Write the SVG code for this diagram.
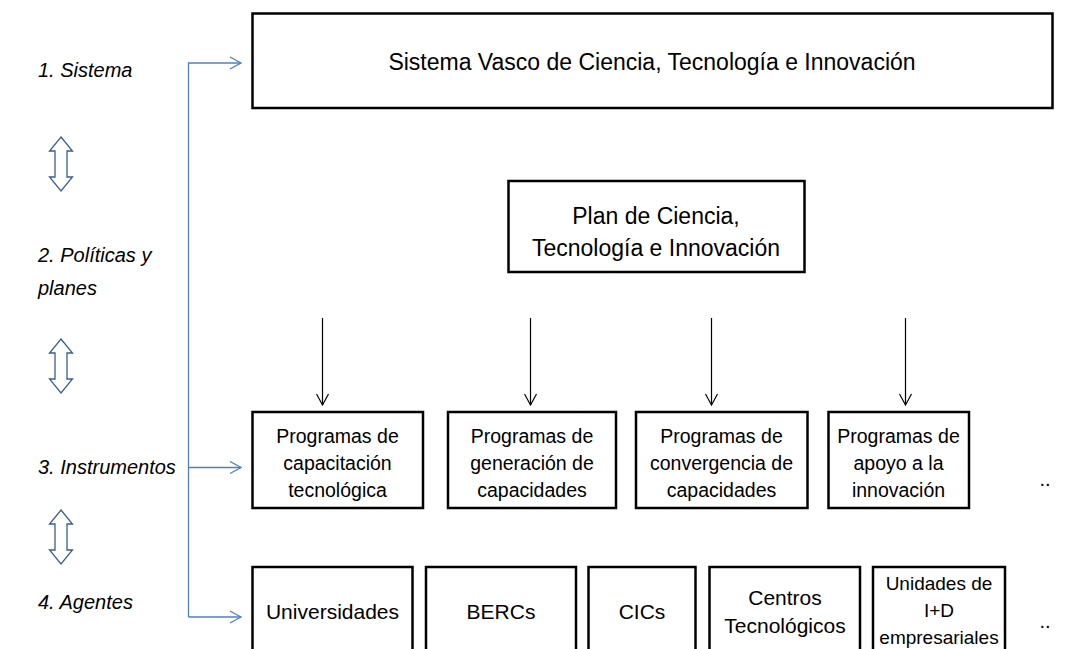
<svg xmlns="http://www.w3.org/2000/svg" width="1080" height="649" viewBox="0 0 1080 649">
<style>
.box{fill:#fff;stroke:#000;stroke-width:2.5}
.t{font-family:"Liberation Sans",Arial,sans-serif;fill:#000;text-anchor:middle}
.lbl{font-family:"Liberation Sans",Arial,sans-serif;font-style:italic;font-size:20px;fill:#000}
.blue{fill:none;stroke:#4f81bd;stroke-width:1.3}
.blk{fill:none;stroke:#000;stroke-width:1.2}
.dbl{fill:#fff;stroke:#3b5e8f;stroke-width:1.3}
.p{font-size:19.5px}
.a{font-size:21px}
</style>
<defs>
<marker id="ab" markerWidth="14" markerHeight="14" refX="12" refY="7" orient="auto" markerUnits="userSpaceOnUse"><path d="M1,1 L12,7 L1,13" fill="none" stroke="#4f81bd" stroke-width="1.3"/></marker>
<marker id="ak" markerWidth="14" markerHeight="14" refX="12" refY="7" orient="auto" markerUnits="userSpaceOnUse"><path d="M1,1 L12,7 L1,13" fill="none" stroke="#000" stroke-width="1.2"/></marker>
<path id="da" d="M0,0 L11.5,14 L6,14 L6,40 L11.5,40 L0,54 L-11.5,40 L-6,40 L-6,14 L-11.5,14 Z"/>
</defs>

<g id="labels">
<text class="lbl" x="38" y="77">1. Sistema</text>
<text class="lbl" x="38" y="262">2. Políticas y</text>
<text class="lbl" x="38" y="295">planes</text>
<text class="lbl" x="38" y="474">3. Instrumentos</text>
<text class="lbl" x="38" y="609">4. Agentes</text>
<use href="#da" class="dbl" x="61" y="137"/>
<use href="#da" class="dbl" x="61" y="339"/>
<use href="#da" class="dbl" x="61" y="510"/>
</g>

<g id="connectors">
<path class="blue" d="M188.5,617 L188.5,63 L241,63" marker-end="url(#ab)"/>
<path class="blue" d="M188.5,467.5 L241,467.5" marker-end="url(#ab)"/>
<path class="blue" d="M188.5,617 L241,617" marker-end="url(#ab)"/>
<path class="blk" d="M322.5,318 L322.5,405" marker-end="url(#ak)"/>
<path class="blk" d="M530.5,318 L530.5,405" marker-end="url(#ak)"/>
<path class="blk" d="M711.5,318 L711.5,405" marker-end="url(#ak)"/>
<path class="blk" d="M905.5,318 L905.5,405" marker-end="url(#ak)"/>
</g>

<g id="sistema">
<rect class="box" x="252.5" y="13.5" width="800" height="94.5"/>
<text class="t" x="652" y="70" font-size="23">Sistema Vasco de Ciencia, Tecnología e Innovación</text>
</g>

<g id="plan">
<rect class="box" x="508.5" y="181" width="296" height="91"/>
<text class="t" x="656" y="224" font-size="23">Plan de Ciencia,</text>
<text class="t" x="656" y="256" font-size="23">Tecnología e Innovación</text>
</g>

<g id="prog1">
<rect class="box" x="252.5" y="412" width="170.5" height="96"/>
<text class="t p" x="337.5" y="443">Programas de</text>
<text class="t p" x="337.5" y="470">capacitación</text>
<text class="t p" x="337.5" y="497">tecnológica</text>
</g>
<g id="prog2">
<rect class="box" x="448" y="412" width="168" height="96"/>
<text class="t p" x="532" y="443">Programas de</text>
<text class="t p" x="532" y="470">generación de</text>
<text class="t p" x="532" y="497">capacidades</text>
</g>
<g id="prog3">
<rect class="box" x="636" y="412" width="171.5" height="96"/>
<text class="t p" x="721.5" y="443">Programas de</text>
<text class="t p" x="721.5" y="470">convergencia de</text>
<text class="t p" x="721.5" y="497">capacidades</text>
</g>
<g id="prog4">
<rect class="box" x="828.5" y="412" width="140.5" height="96"/>
<text class="t p" x="898.5" y="443">Programas de</text>
<text class="t p" x="898.5" y="470">apoyo a la</text>
<text class="t p" x="898.5" y="497">innovación</text>
</g>
<text class="t" id="dots1" x="1045" y="486" font-size="20">..</text>

<g id="univ">
<rect class="box" x="252.5" y="567" width="160" height="100"/>
<text class="t a" x="332.5" y="619">Universidades</text>
</g>
<g id="bercs">
<rect class="box" x="426" y="567" width="150" height="100"/>
<text class="t a" x="501" y="619">BERCs</text>
</g>
<g id="cics">
<rect class="box" x="588.5" y="567" width="107" height="100"/>
<text class="t a" x="642" y="619">CICs</text>
</g>
<g id="centros">
<rect class="box" x="709.5" y="567" width="150.5" height="100"/>
<text class="t a" x="785" y="605">Centros</text>
<text class="t a" x="785" y="633">Tecnológicos</text>
</g>
<g id="unidades">
<rect class="box" x="873" y="567" width="132" height="100"/>
<text class="t" x="939" y="590" font-size="19">Unidades de</text>
<text class="t" x="939" y="617" font-size="19">I+D</text>
<text class="t" x="939" y="644" font-size="19">empresariales</text>
</g>
<text class="t" id="dots2" x="1045" y="628" font-size="20">..</text>
</svg>
